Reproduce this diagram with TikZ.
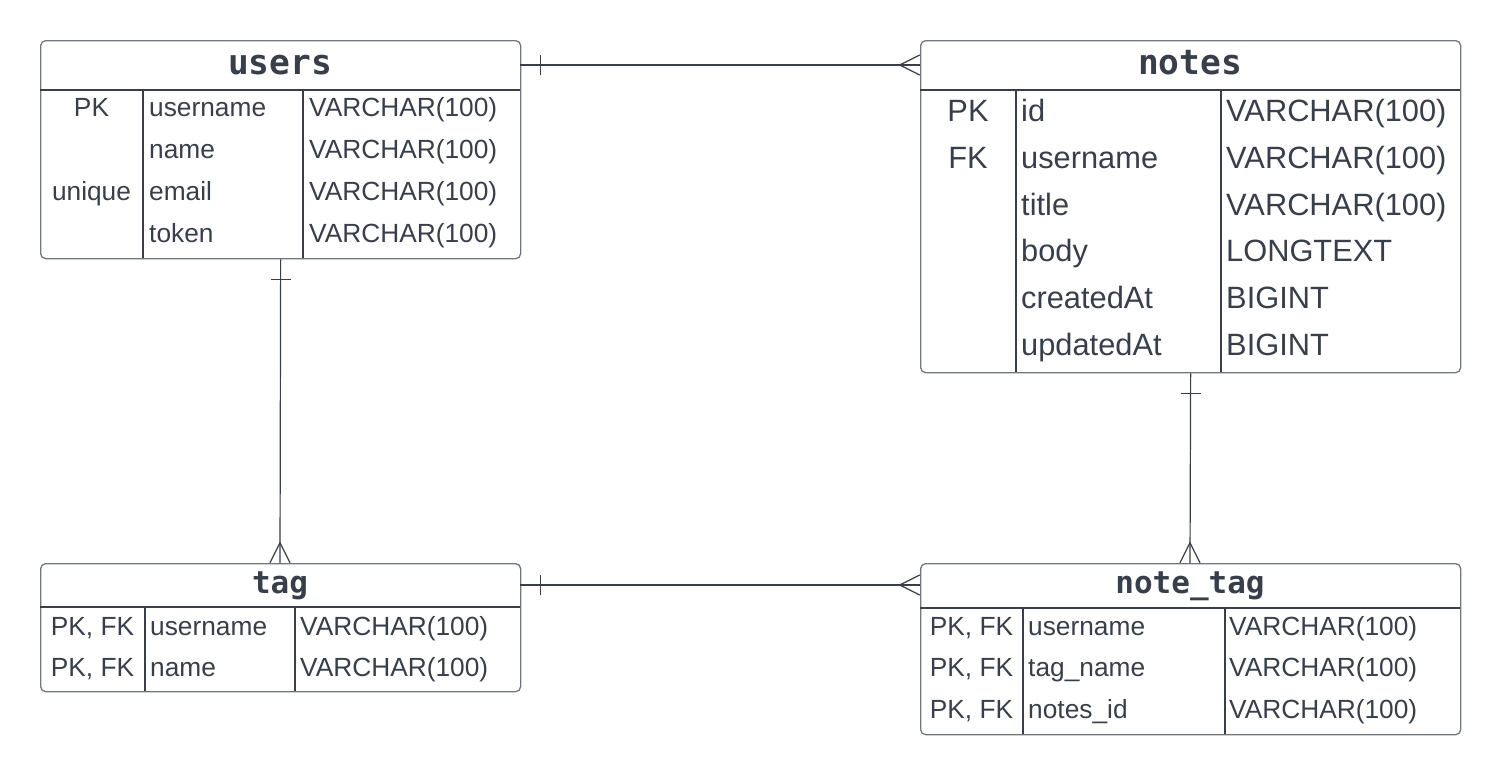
\documentclass[tikz,border=0pt]{standalone}
\usepackage{fontspec}
\setmainfont{Liberation Sans}
\newfontfamily\hdrfont{DejaVu Sans Mono}
\definecolor{ink}{HTML}{383F4A}
\definecolor{frame}{HTML}{72777E}
\begin{document}
\begin{tikzpicture}[x=1pt,y=-1pt,
  tbl/.style={draw=frame, line width=1.3pt, rounded corners=5pt, inner sep=0pt, anchor=north west},
  hdr/.style={inner sep=0pt, text=ink, text depth=0pt},
  div/.style={draw=ink, line width=1.1pt},
  conn/.style={draw=ink, line width=1.2pt},
  cell/.style={inner sep=0pt, text=ink, anchor=base west},
  keycell/.style={inner sep=0pt, text=ink, anchor=base},
  fs/.style={font=\fontsize{26.3}{26.3}\selectfont},
  fb/.style={font=\fontsize{30.8}{30.8}\selectfont},
  hb/.style={font=\hdrfont\bfseries\fontsize{34.5}{34.5}\selectfont, text height=18.8pt},
  hs/.style={font=\hdrfont\bfseries\fontsize{31}{31}\selectfont, text height=16.9pt}]
\useasboundingbox (0,0) rectangle (1500,774);

% ---------- users
\node[tbl, minimum width=480, minimum height=218] (users) at (40,40) {};
\node[hdr, hb, minimum width=480, minimum height=50] (usersh) at (280,65) {users};
\draw[div] (40,90) -- (520,90);
\draw[div] (143,90) -- (143,258);
\draw[div] (303,90) -- (303,258);
\foreach \k/\n/\t/\y in {PK/username/VARCHAR(100)/116.5, /name/VARCHAR(100)/158.5, unique/email/VARCHAR(100)/200.5, /token/VARCHAR(100)/242.5}{
  \node[keycell, fs] (uk\y) at (91.5,\y) {\k};
  \node[cell, fs] (un\y) at (149,\y) {\n};
  \node[cell, fs] (ut\y) at (309,\y) {\t};
}

% ---------- notes
\node[tbl, minimum width=540, minimum height=332] (notes) at (920,40) {};
\node[hdr, hb, minimum width=540, minimum height=50] (notesh) at (1190,65) {notes};
\draw[div] (920,90) -- (1460,90);
\draw[div] (1016,90) -- (1016,372);
\draw[div] (1221,90) -- (1221,372);
\foreach \k/\n/\t/\y in {PK/id/VARCHAR(100)/121, FK/username/VARCHAR(100)/168, /title/VARCHAR(100)/215, /body/LONGTEXT/261, /createdAt/BIGINT/308, /updatedAt/BIGINT/355}{
  \node[keycell, fb] (nk\y) at (968,\y) {\k};
  \node[cell, fb] (nn\y) at (1021,\y) {\n};
  \node[cell, fb] (nt\y) at (1226,\y) {\t};
}

% ---------- tag
\node[tbl, minimum width=480, minimum height=128] (tag) at (40,563) {};
\node[hdr, hs, minimum width=480, minimum height=44] (tagh) at (280,585) {tag};
\draw[div] (40,607) -- (520,607);
\draw[div] (145,607) -- (145,691);
\draw[div] (295,607) -- (295,691);
\foreach \k/\n/\t/\y in {{PK, FK}/username/VARCHAR(100)/635.5, {PK, FK}/name/VARCHAR(100)/676.5}{
  \node[keycell, fs] (tk\y) at (92.5,\y) {\k};
  \node[cell, fs] (tn\y) at (150,\y) {\n};
  \node[cell, fs] (tt\y) at (300,\y) {\t};
}

% ---------- note_tag
\node[tbl, minimum width=540, minimum height=171] (notetag) at (920,563) {};
\node[hdr, hs, minimum width=540, minimum height=45] (notetagh) at (1190,585.5) {note\_tag};
\draw[div] (920,608) -- (1460,608);
\draw[div] (1023,608) -- (1023,734);
\draw[div] (1225,608) -- (1225,734);
\foreach \k/\n/\t/\y in {{PK, FK}/username/VARCHAR(100)/635.5, {PK, FK}/tag\_name/VARCHAR(100)/676.5, {PK, FK}/notes\_id/VARCHAR(100)/718.5}{
  \node[keycell, fs] (ntk\y) at (971.5,\y) {\k};
  \node[cell, fs] (ntn\y) at (1028,\y) {\n};
  \node[cell, fs] (ntt\y) at (1229,\y) {\t};
}

% ---------- connectors
% users -- notes
\draw[conn] (usersh.east) -- (notesh.west);
\draw[conn] (usersh.east) ++(20,-10) -- ++(0,20);
\draw[conn] (notesh.west) ++(0,-10) -- ++(-20,10) -- ++(20,10);
% users -- tag
\draw[conn] (users.south) -- (tagh.north);
\draw[conn] (users.south) ++(-10,20) -- ++(20,0);
\draw[conn] (tagh.north) ++(-10,0) -- ++(10,-20) -- ++(10,20);
% notes -- note_tag
\draw[conn] (notes.south) -- (notetagh.north);
\draw[conn] (notes.south) ++(-10,20) -- ++(20,0);
\draw[conn] (notetagh.north) ++(-10,0) -- ++(10,-20) -- ++(10,20);
% tag -- note_tag
\draw[conn] (tagh.east) -- (notetagh.west |- tagh.east);
\draw[conn] (tagh.east) ++(20,-10) -- ++(0,20);
\draw[conn] (notetagh.west |- tagh.east) ++(0,-10) -- ++(-20,10) -- ++(20,10);
\end{tikzpicture}
\end{document}
